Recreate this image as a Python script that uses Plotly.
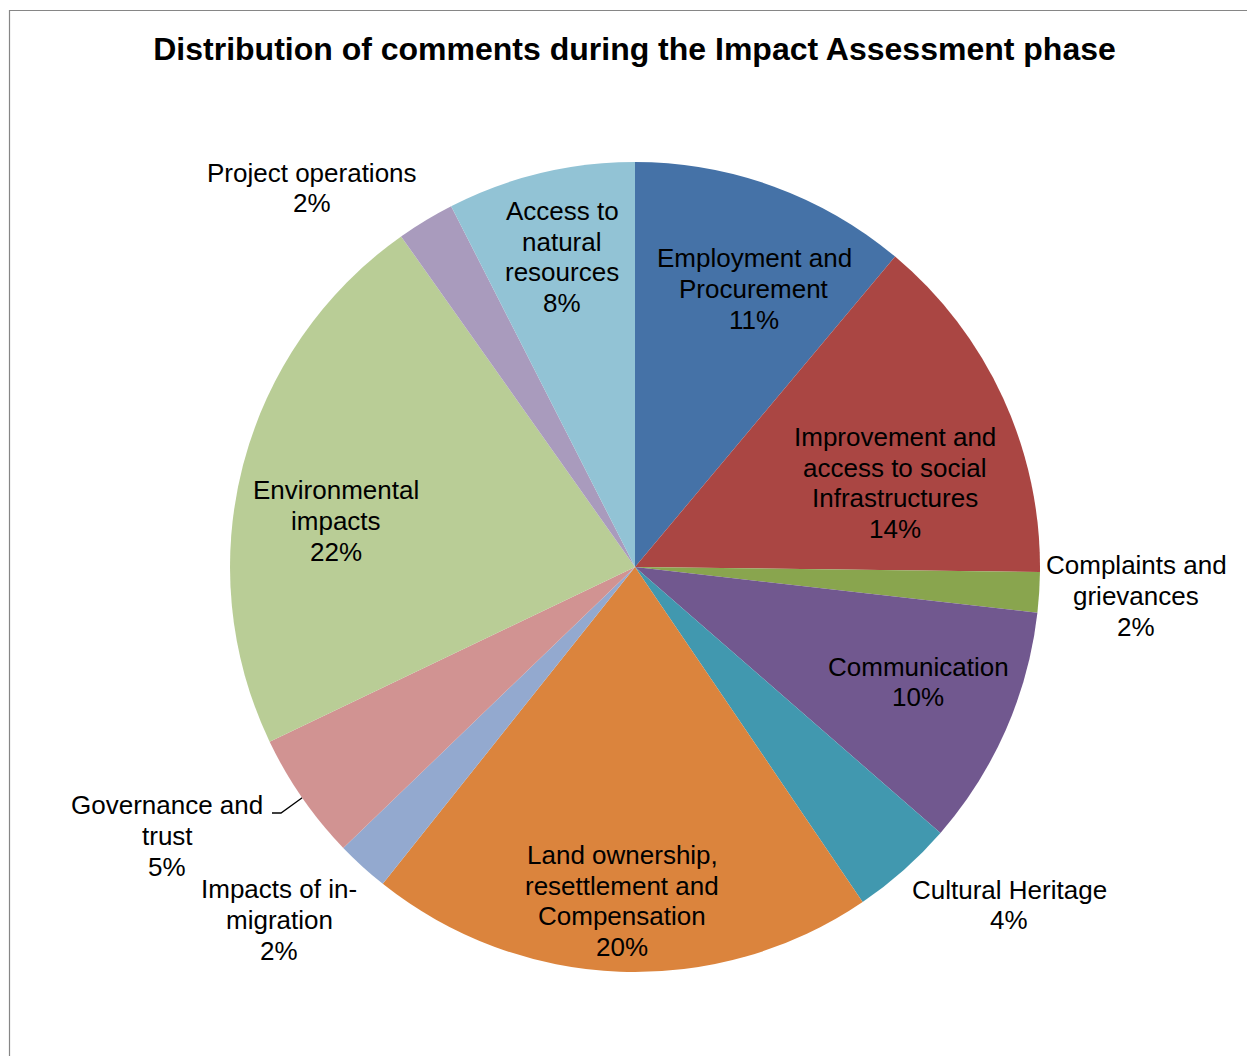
import math
import plotly.graph_objects as go

# ---------------- data ----------------
categories = [
    "Employment and<br>Procurement",
    "Improvement and<br>access to social<br>Infrastructures",
    "Complaints and<br>grievances",
    "Communication",
    "Cultural Heritage",
    "Land ownership,<br>resettlement and<br>Compensation",
    "Impacts of in-<br>migration",
    "Governance and<br>trust",
    "Environmental<br>impacts",
    "Project operations",
    "Access to<br>natural<br>resources",
]
values = [11.1, 14.1, 1.6, 9.6, 4.1, 20.2, 2.1, 5.1, 22.3, 2.3, 7.5]

colors = ["#4572A7", "#AA4643", "#89A54E", "#71588F", "#4198AF", "#DB843D",
          "#93A9CF", "#D19392", "#B9CD96", "#A99BBD", "#92C3D5"]

# ---------------- layout geometry (page pixels) ----------------
OFF = 8            # default body margin of the html page
W, H = 1255, 1056
CX, CY, R = 635 - OFF, 567 - OFF, 405
# label anchor centres (page pixels)
label_pos = [(754, 289), (895, 483), (1136, 596), (918, 682), (1009, 905),
             (622, 901), (279, 920), (167, 836), (336, 521), (312, 188),
             (562, 257)]
LINE_H = 30.7
FONT = "Liberation Sans, Arial, sans-serif"

fig = go.Figure()
fig.add_trace(go.Pie(
    labels=[c.replace("<br>", " ") for c in categories],
    values=values,
    sort=False,
    direction="clockwise",
    rotation=0,
    textinfo="none",
    hoverinfo="label+percent",
    marker=dict(colors=colors, line=dict(width=0)),
    domain=dict(x=[(CX - R) / W, (CX + R) / W],
                y=[1 - (CY + R) / H, 1 - (CY - R) / H]),
    showlegend=False,
))

total = sum(values)
for cat, v, (lx, ly) in zip(categories, values, label_pos):
    pct = round(v / total * 100)
    lines = cat.split("<br>") + [f"{pct}%"]
    n = len(lines)
    for i, ln in enumerate(lines):
        yy = ly - OFF + (i - (n - 1) / 2) * LINE_H
        fig.add_annotation(x=lx - OFF, y=yy, xref="x", yref="y",
                           text=ln, showarrow=False,
                           xanchor="center", yanchor="middle", align="center",
                           font=dict(family=FONT, size=26, color="#000000"))

# leader line for "Governance and trust"
gi = 7
cum_before = sum(values[:gi])
mid = (cum_before + values[gi] / 2) / total * 2 * math.pi
ex = CX + R * math.sin(mid)
ey = CY - R * math.cos(mid)
fig.add_trace(go.Scatter(x=[272 - OFF, 281 - OFF, ex], y=[813 - OFF, 813 - OFF, ey],
                         mode="lines", line=dict(color="#000000", width=1.3),
                         hoverinfo="skip", showlegend=False))

fig.update_xaxes(range=[0, W], visible=False, fixedrange=True)
fig.update_yaxes(range=[H, 0], visible=False, fixedrange=True)

fig.add_shape(type="rect", xref="paper", yref="paper",
              x0=(9.5 - OFF) / W, x1=1.05, y0=-0.05, y1=1 - (10.5 - OFF) / H,
              line=dict(color="#868686", width=1.2), layer="above")

fig.update_layout(
    width=W, height=H,
    margin=dict(l=0, r=0, t=0, b=0),
    paper_bgcolor="white", plot_bgcolor="rgba(0,0,0,0)",
    title=dict(text="<b>Distribution of comments during the Impact Assessment phase</b>",
               x=(634.5 - OFF) / W, xanchor="center", y=1 - (49 - OFF) / H, yanchor="middle",
               font=dict(family=FONT, size=32, color="#000000")),
)

fig.write_html("out.html")
